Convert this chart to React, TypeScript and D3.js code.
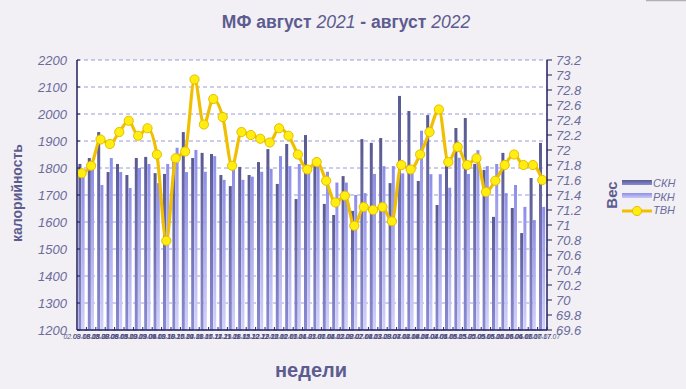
import React from "react";
import * as d3 from "d3";

const categories: string[] = [
  "02.08-08.08", "09.08-15.08", "16.08-22.08", "23.08-29.08", "30.08-05.09",
  "06.09-12.09", "13.09-19.09", "20.09-26.09", "27.09-03.10",
  "04.10-10.10", "11.10-17.10", "18.10-24.10", "25.10-31.10",
  "01.11-07.11", "08.11-14.11", "15.11-21.11", "22.11-28.11", "29.11-05.12",
  "06.12-12.12", "13.12-19.12", "20.12-26.12", "27.12-02.01",
  "03.01-09.01", "10.01-16.01", "17.01-23.01", "24.01-30.01", "31.01-06.02",
  "07.02-13.02", "14.02-20.02", "21.02-27.02", "28.02-06.03",
  "07.03-13.03", "14.03-20.03", "21.03-27.03", "28.03-03.04",
  "04.04-10.04", "11.04-17.04", "18.04-24.04", "25.04-01.05",
  "02.05-08.05", "09.05-15.05", "16.05-22.05", "23.05-29.05", "30.05-05.06",
  "06.06-12.06", "13.06-19.06", "20.06-26.06", "27.06-03.07",
  "04.07-10.07", "11.07-17.07",
];

const skn: number[] = [
  1815, 1837, 1933, 1785, 1815, 1774, 1837, 1841, 1781, 1778,
  1830, 1933, 1837, 1856, 1852, 1774, 1733, 1804, 1774, 1822,
  1870, 1741, 1889, 1685, 1922, 1808, 1667, 1626, 1770, 1641,
  1907, 1893, 1911, 1744, 2067, 2011, 1752, 1996, 1663, 1807,
  1948, 1985, 1815, 1793, 1619, 1856, 1652, 1559, 1763, 1893,
];

const rkn: number[] = [
  1774, 1795, 1737, 1837, 1785, 1726, 1800, 1815, 1744, 1815,
  1875, 1785, 1867, 1786, 1844, 1756, 1793, 1756, 1768, 1786,
  1797, 1844, 1807, 1815, 1783, 1805, 1786, 1746, 1746, 1700,
  1707, 1778, 1807, 1807, 1780, 1781, 1938, 1777, 1777, 1727,
  1838, 1778, 1866, 1807, 1815, 1707, 1737, 1656, 1607, 1656,
];

const tvn: number[] = [
  71.69, 71.79, 72.14, 72.08, 72.24, 72.39, 72.19, 72.29, 71.94, 70.79,
  71.89, 71.98, 72.94, 72.34, 72.68, 72.44, 71.79, 72.24, 72.2, 72.15,
  72.1, 72.29, 72.19, 71.94, 71.74, 71.84, 71.59, 71.3, 71.39, 70.99,
  71.24, 71.2, 71.24, 71.05, 71.8, 71.74, 71.94, 72.24, 72.54, 71.84,
  72.04, 71.8, 71.89, 71.44, 71.59, 71.8, 71.94, 71.8, 71.8, 71.6,
];

const leftTicks: number[] = [1200, 1300, 1400, 1500, 1600, 1700, 1800, 1900, 2000, 2100, 2200];
const rightTicks: number[] = [
  69.6, 69.8, 70, 70.2, 70.4, 70.6, 70.8, 71, 71.2, 71.4, 71.6, 71.8,
  72, 72.2, 72.4, 72.6, 72.8, 73, 73.2,
];
const seriesNames: string[] = ["СКН", "РКН", "ТВН"];

const W = 686;
const H = 389;
const PL = 77;
const PR = 547;
const PT = 60;
const PB = 330;

const TXT = "#6b6b9d";
const TITLE = "#5c5c90";
const AXIS = "#1f1f5c";
const GRID = "#9b9bd8";
const LINE = "#f0c000";

export default function App() {
  const x = d3.scaleBand<string>().domain(categories).range([PL, PR]).padding(0);
  const yL = d3.scaleLinear().domain([1200, 2200]).range([PB, PT]);
  const yR = d3.scaleLinear().domain([69.6, 73.2]).range([PB, PT]);
  const bw = x.bandwidth();
  const cx = (c: string) => (x(c) as number) + bw / 2;

  const linePath = d3
    .line<number>()
    .x((_, i) => cx(categories[i]))
    .y((d) => yR(d))
    .curve(d3.curveMonotoneX)(tvn) as string;

  const font = "'Liberation Sans', Arial, sans-serif";

  return (
    <div style={{ position: "absolute", left: 0, top: 0 }}>
      <svg width={W} height={H} style={{ display: "block" }} fontFamily={font}>
        <defs>
          <linearGradient id="gSkn" x1="0" y1="0" x2="0" y2="1">
            <stop offset="0" stopColor="#5a5a92" />
            <stop offset="1" stopColor="#8a8ad2" />
          </linearGradient>
          <linearGradient id="gRkn" x1="0" y1="0" x2="0" y2="1">
            <stop offset="0" stopColor="#8e8ee8" />
            <stop offset="1" stopColor="#d2d2fa" />
          </linearGradient>
          <linearGradient id="gSknL" x1="0" y1="0" x2="0" y2="1">
            <stop offset="0" stopColor="#5a5a92" />
            <stop offset="1" stopColor="#8a8ad2" />
          </linearGradient>
          <linearGradient id="gRknL" x1="0" y1="0" x2="0" y2="1">
            <stop offset="0" stopColor="#8e8ee8" />
            <stop offset="1" stopColor="#c8c8f6" />
          </linearGradient>
        </defs>
        <rect x={0} y={0} width={W} height={H} fill="#f2f0f4" />
        <line x1={646} x2={686} y1={0.5} y2={0.5} stroke="#b0b0b0" strokeWidth={1.5} />

        {/* title */}
        <text x={346} y={28} textAnchor="middle" fontSize={17.5} fontWeight="bold" fill={TITLE}>
          МФ август <tspan fontStyle="italic" fontWeight="normal">2021</tspan> - август{" "}
          <tspan fontStyle="italic" fontWeight="normal">2022</tspan>
        </text>

        {/* plot bg */}
        <rect x={PL} y={PT} width={PR - PL} height={PB - PT} fill="#ffffff" />

        {/* grid */}
        {leftTicks.map((t) => (
          <line
            key={"g" + t}
            x1={PL}
            x2={PR}
            y1={yL(t)}
            y2={yL(t)}
            stroke={GRID}
            strokeWidth={1}
            strokeDasharray="4,3"
          />
        ))}

        {/* bars */}
        {categories.map((c, i) => {
          const m = cx(c);
          return (
            <g key={"b" + i}>
              <rect x={m - 3.3} y={yL(skn[i])} width={3} height={PB - yL(skn[i])} fill="url(#gSkn)" />
              <rect x={m - 0.1} y={yL(rkn[i])} width={3} height={PB - yL(rkn[i])} fill="url(#gRkn)" />
            </g>
          );
        })}

        {/* line */}
        <path d={linePath} fill="none" stroke={LINE} strokeWidth={3.2} strokeLinejoin="round" />
        {tvn.map((v, i) => (
          <circle
            key={"p" + i}
            cx={cx(categories[i])}
            cy={yR(v)}
            r={4.6}
            fill="#ffee10"
            stroke="#e6bc00"
            strokeWidth={1}
          />
        ))}

        {/* axes */}
        <line x1={PL} x2={PL} y1={PT} y2={PB} stroke={AXIS} strokeWidth={1.5} />
        <line x1={PR} x2={PR} y1={PT} y2={PB} stroke={AXIS} strokeWidth={1.5} />
        <line x1={PL} x2={PR} y1={PB} y2={PB} stroke={AXIS} strokeWidth={1.5} />
        {leftTicks.map((t) => (
          <g key={"lt" + t}>
            <line x1={PL} x2={PL + 3} y1={yL(t)} y2={yL(t)} stroke={AXIS} strokeWidth={1} />
            <text x={67} y={yL(t) + 4.5} textAnchor="end" fontSize={13} fontStyle="italic" fill={TXT}>
              {t}
            </text>
          </g>
        ))}
        {rightTicks.map((t) => (
          <g key={"rt" + t}>
            <line x1={PR} x2={PR + 5} y1={yR(t)} y2={yR(t)} stroke={AXIS} strokeWidth={1} />
            <text x={556} y={yR(t) + 4.5} fontSize={13} fontStyle="italic" fill={TXT}>
              {String(t)}
            </text>
          </g>
        ))}
        {categories.map((c, i) => (
          <line
            key={"xt" + i}
            x1={(x(c) as number) + bw}
            x2={(x(c) as number) + bw}
            y1={PB}
            y2={PB - 3}
            stroke={AXIS}
            strokeWidth={1}
          />
        ))}
        {categories.map((c, i) => (
          <text
            key={"xl" + i}
            x={cx(c)}
            y={339}
            textAnchor="middle"
            fontSize={6.8}
            fontStyle="italic"
            fill="#4e4e82"
          >
            {c}
          </text>
        ))}

        {/* axis titles */}
        <text
          transform="translate(22,193) rotate(-90)"
          textAnchor="middle"
          fontSize={14}
          fontWeight="bold"
          fill={TITLE}
        >
          калорийность
        </text>
        <text
          transform="translate(617,195) rotate(-90)"
          textAnchor="middle"
          fontSize={15}
          fontWeight="bold"
          fill={TITLE}
        >
          Вес
        </text>
        <text x={311} y={377} textAnchor="middle" fontSize={20} fontWeight="bold" fill={TITLE}>
          недели
        </text>

        {/* legend */}
        <rect x={622} y={180} width={30} height={5} fill="url(#gSknL)" />
        <rect x={622} y={193} width={30} height={5} fill="url(#gRknL)" />
        <line x1={622} x2={652} y1={211} y2={211} stroke={LINE} strokeWidth={3} />
        <circle cx={637} cy={211} r={4.6} fill="#ffee10" stroke="#e6bc00" strokeWidth={1} />
        {seriesNames.map((s, i) => (
          <text key={"lg" + s} x={653} y={187 + i * 13.5} fontSize={11} fontStyle="italic" fill={TXT}>
            {s}
          </text>
        ))}
      </svg>
    </div>
  );
}
